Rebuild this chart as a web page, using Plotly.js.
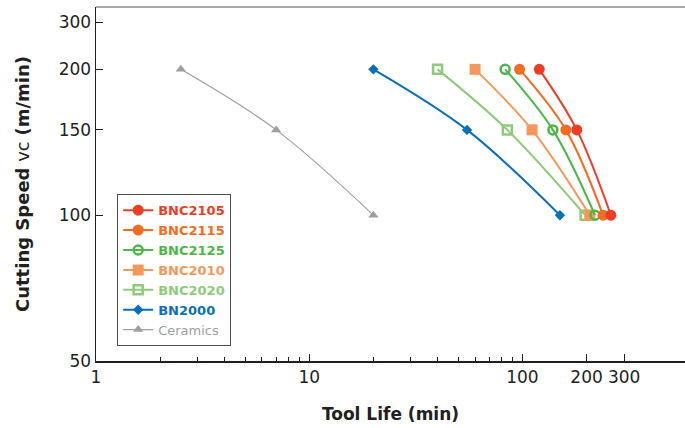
<!DOCTYPE html>
<html>
<head>
<meta charset="utf-8">
<script src="https://cdn.plot.ly/plotly-3.0.1.min.js"></script>
<style>html,body{margin:0;padding:0;background:#fff;}#chart{width:685px;height:428px;}</style>
</head>
<body>
<div id="chart"></div>
<script>
// Cutting speed rows (m/min)
const speeds = [200, 150, 100];
// Tool life (min) per grade, read at each cutting speed
const lifeCeramics = [2.5, 7, 20];
const lifeBN2000   = [20, 55, 150];
const lifeBNC2020  = [40, 85, 197];
const lifeBNC2010  = [60, 111, 207];
const lifeBNC2125  = [83, 139, 219];
const lifeBNC2115  = [97, 160, 239];
const lifeBNC2105  = [120, 180, 260];

const xTickVals = [1, 10, 100, 200, 300];
const xTickText = ['1', '10', '100', '200', '300'];
const xMinorVals = [2,3,4,5,6,7,8,9,20,30,40,50,60,70,80,90];
const yTickVals = [50, 100, 150, 200, 250];
const yTickText = ['50', '100', '150', '200', '300'];

const FONT = 'DejaVu Sans, sans-serif';
const INK = '#231f20';

function series(name, x, color, symbol, size, lw, bold) {
  const label = bold ? '<b>' + name + '</b>' : name;
  return {
    type: 'scatter', mode: 'lines+markers',
    x: x, y: speeds,
    name: '<span style="color:' + color + '">' + label + '</span>',
    line: {color: color, width: lw, shape: 'spline', smoothing: 1},
    marker: {color: color, symbol: symbol, size: size,
             line: {color: color, width: symbol.indexOf('open') >= 0 ? 2.5 : 0}},
    cliponaxis: false
  };
}

const traces = [
  series('Ceramics', lifeCeramics, '#9d9fa2', 'triangle-up', 9, 1.2, false),
  series('BN2000',   lifeBN2000,   '#0a6fba', 'diamond',      8, 2, true),
  series('BNC2020',  lifeBNC2020,  '#8dcb7a', 'square-open',  9, 2, true),
  series('BNC2010',  lifeBNC2010,  '#f7985a', 'square',      11, 2, true),
  series('BNC2125',  lifeBNC2125,  '#4cb748', 'circle-open',  9, 2, true),
  series('BNC2115',  lifeBNC2115,  '#f36c21', 'circle',      11, 2, true),
  series('BNC2105',  lifeBNC2105,  '#ee3d24', 'circle',      11, 2, true)
];

const layout = {
  width: 685, height: 428,
  margin: {l: 96, r: 0, t: 7, b: 67, pad: 0},
  paper_bgcolor: '#fff', plot_bgcolor: '#fff',
  font: {family: FONT, color: INK, size: 16},
  showlegend: true,
  legend: {
    x: 0.036, y: 0.471, xanchor: 'left', yanchor: 'top',
    traceorder: 'reversed',
    bordercolor: '#4d4d4d', borderwidth: 1, bgcolor: '#fff',
    font: {family: FONT, size: 13, color: INK},
    itemwidth: 30
  },
  xaxis: {
    type: 'log',
    range: [0, 2.7627],
    tickmode: 'array', tickvals: xTickVals, ticktext: xTickText,
    ticks: 'inside', ticklen: 7, tickwidth: 1.2, tickcolor: INK,
    minor: {tickmode: 'array', tickvals: xMinorVals, ticks: 'inside', ticklen: 4, tickwidth: 1, tickcolor: INK},
    showline: true, linecolor: INK, linewidth: 1.5,
    showgrid: false, zeroline: false,
    tickfont: {family: FONT, size: 17, color: INK},
    title: {text: '<b>Tool Life (min)</b>', font: {family: FONT, size: 17, color: INK}, standoff: 22}
  },
  yaxis: {
    type: 'log',
    range: [Math.log10(50), Math.log10(269)],
    tickmode: 'array', tickvals: yTickVals, ticktext: yTickText,
    ticks: 'inside', ticklen: 7, tickwidth: 1.2, tickcolor: INK,
    showline: true, linecolor: INK, linewidth: 1.5,
    showgrid: false, zeroline: false,
    tickfont: {family: FONT, size: 17, color: INK},
    title: {text: '<b>Cutting Speed</b> vc <b>(m/min)</b>', font: {family: FONT, size: 18, color: INK}, standoff: 24}
  },
  shapes: [
    {type: 'line', xref: 'paper', yref: 'paper', x0: 0, x1: 1, y0: 1, y1: 1,
     line: {color: '#8a8a8a', width: 1.5}}
  ]
};

Plotly.newPlot('chart', traces, layout, {displayModeBar: false, staticPlot: true});
</script>
</body>
</html>
